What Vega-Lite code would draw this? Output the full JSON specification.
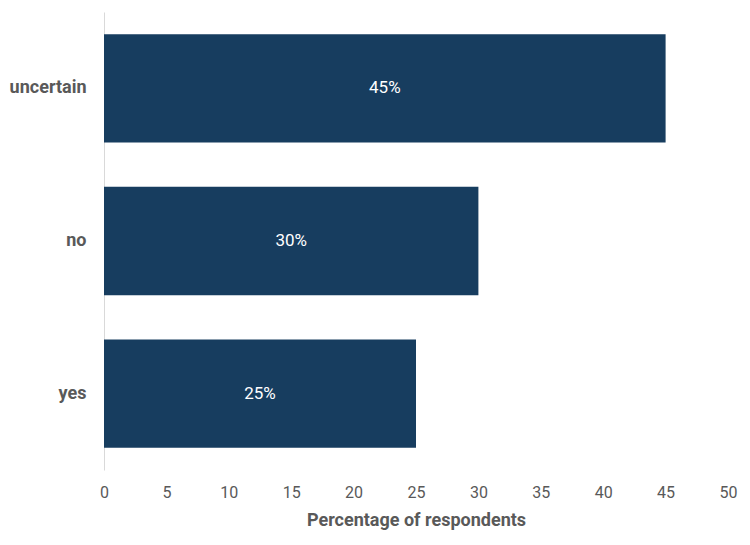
{
  "$schema": "https://vega.github.io/schema/vega-lite/v6.json",
  "autosize": {"type": "none"},
  "padding": {"left": 104, "top": 12, "right": 22, "bottom": 75},
  "width": 624,
  "height": 458,
  "background": "white",
  "config": {
    "view": {"stroke": null},
    "font": "Roboto"
  },
  "data": {
    "values": [
      {"answer": "uncertain", "value": 45, "label": "45%"},
      {"answer": "no", "value": 30, "label": "30%"},
      {"answer": "yes", "value": 25, "label": "25%"}
    ]
  },
  "encoding": {
    "y": {
      "field": "answer",
      "type": "nominal",
      "sort": ["uncertain", "no", "yes"],
      "scale": {"paddingInner": 0.29, "paddingOuter": 0.145},
      "axis": {
        "title": null,
        "ticks": false,
        "domainColor": "#d9d9d9",
        "domainWidth": 1,
        "labelFont": "Roboto",
        "labelFontSize": 18,
        "labelFontWeight": "bold",
        "labelColor": "#595959",
        "labelPadding": 18
      }
    }
  },
  "resolve": {"scale": {"x": "independent"}},
  "layer": [
    {
      "mark": {"type": "bar", "color": "#173d5f"},
      "encoding": {
        "x": {
          "field": "value",
          "type": "quantitative",
          "scale": {"domain": [0, 50]},
          "axis": {
            "title": "Percentage of respondents",
            "values": [0, 5, 10, 15, 20, 25, 30, 35, 40, 45, 50],
            "labelOverlap": false,
            "labelFlush": false,
            "domain": false,
            "ticks": false,
            "grid": false,
            "labelFont": "Roboto",
            "labelFontSize": 16,
            "labelColor": "#595959",
            "labelPadding": 14,
            "titleFont": "Roboto",
            "titleFontSize": 18,
            "titleFontWeight": "bold",
            "titleColor": "#595959",
            "titlePadding": 11
          }
        }
      }
    },
    {
      "mark": {"type": "text", "color": "white", "fontSize": 17, "font": "Roboto", "align": "center", "baseline": "middle"},
      "encoding": {
        "x": {"field": "value", "type": "quantitative", "scale": {"domain": [0, 100]}, "axis": null},
        "text": {"field": "label"}
      }
    }
  ]
}
